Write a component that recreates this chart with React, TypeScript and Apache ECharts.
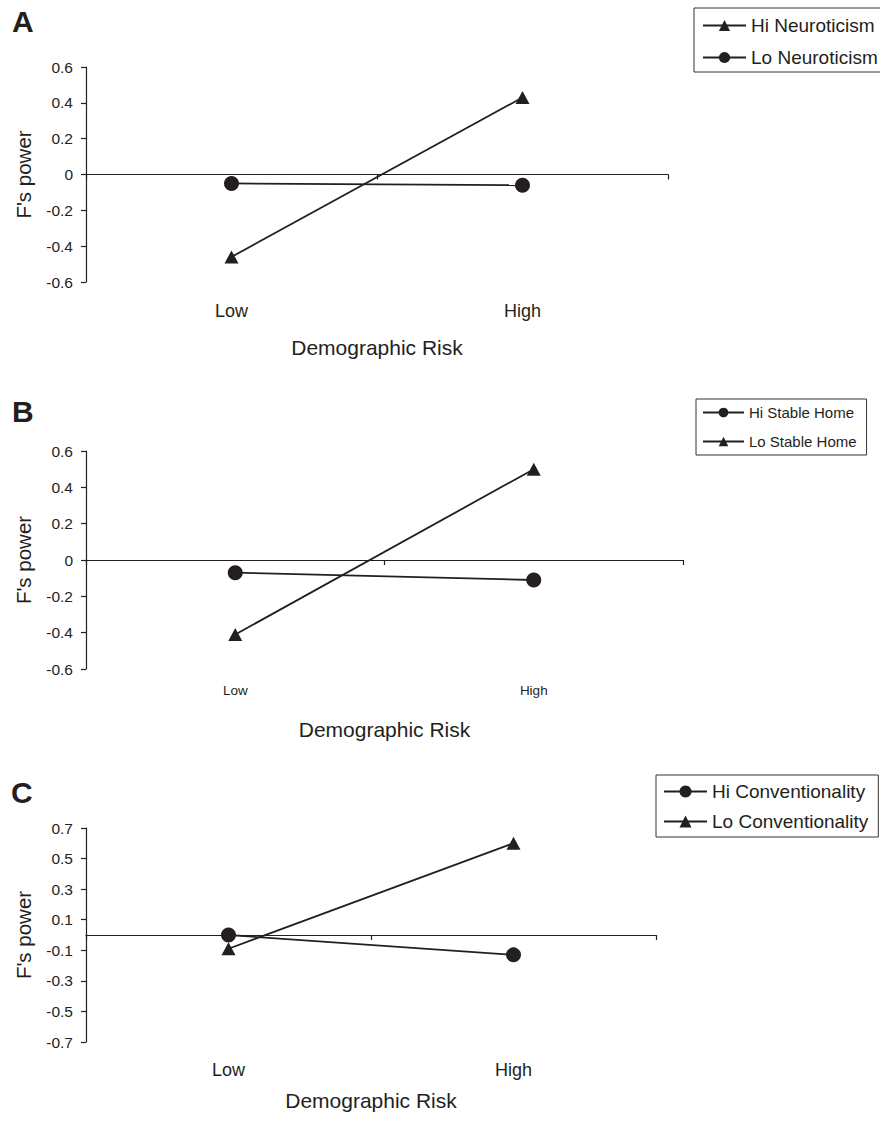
import React, { useEffect, useRef } from "react";
import * as echarts from "echarts";

const categories = ["Low", "High"];

// Panel A
const hiNeuroticism = [-0.46, 0.43];
const loNeuroticism = [-0.05, -0.06];
// Panel B
const hiStableHome = [-0.07, -0.11];
const loStableHome = [-0.41, 0.5];
// Panel C
const hiConventionality = [0.0, -0.13];
const loConventionality = [-0.09, 0.6];

const ticksAB = [-0.6, -0.4, -0.2, 0, 0.2, 0.4, 0.6];
const ticksC = [-0.7, -0.5, -0.3, -0.1, 0.1, 0.3, 0.5, 0.7];

const INK = "#231f20";
const FONT = "'Liberation Sans', Arial, sans-serif";

export default function App() {
  const ref = useRef<HTMLDivElement>(null);

  useEffect(() => {
    if (!ref.current) return;
    const chart = echarts.init(ref.current, undefined, { renderer: "svg" });

    const grids = [
      { left: 86, top: 67, width: 582, height: 215 },
      { left: 86, top: 451, width: 597, height: 218 },
      { left: 86, top: 828, width: 570, height: 214 },
    ];
    const catFont = [18, 13.5, 18];
    const catMargin = [20, 14, 19];
    const nameGapX = [55, 50, 48];

    const xAxes: any[] = [];
    const yAxes: any[] = [];
    grids.forEach((g, i) => {
      xAxes.push({
        type: "category",
        gridIndex: i,
        data: categories,
        position: "bottom",
        boundaryGap: true,
        axisLine: { show: false, onZero: false },
        axisTick: { show: false },
        axisLabel: { color: INK, fontSize: catFont[i], fontFamily: FONT, margin: catMargin[i] },
        name: "Demographic Risk",
        nameLocation: "middle",
        nameGap: nameGapX[i],
        nameTextStyle: { color: INK, fontSize: 21, fontFamily: FONT },
        splitLine: { show: false },
      });
      xAxes.push({
        type: "category",
        gridIndex: i,
        data: categories,
        position: "bottom",
        boundaryGap: true,
        axisLine: { show: true, onZero: true, lineStyle: { color: INK, width: 1.2 } },
        axisTick: { show: true, length: 5, lineStyle: { color: INK, width: 1.2 } },
        axisLabel: { show: false },
        splitLine: { show: false },
      });
      const isC = i === 2;
      const ticks = isC ? ticksC : ticksAB;
      yAxes.push({
        type: "value",
        gridIndex: i,
        min: isC ? -0.7 : -0.6,
        max: isC ? 0.7 : 0.6,
        ...(isC ? {} : { interval: 0.2 }),
        axisLine: { show: true, lineStyle: { color: INK, width: 1.2 } },
        axisTick: isC
          ? { show: true, length: 5, customValues: ticks, lineStyle: { color: INK, width: 1.2 } }
          : { show: true, length: 5, lineStyle: { color: INK, width: 1.2 } },
        axisLabel: {
          color: INK,
          fontSize: 15.5,
          fontFamily: FONT,
          margin: 13,
          ...(isC ? { customValues: ticks } : {}),
          formatter: (v: number) => (Math.abs(v) < 1e-9 ? "0" : (Math.round(v * 10) / 10).toString()),
        },
        splitLine: { show: false },
        name: "F's power",
        nameLocation: "middle",
        nameGap: 52,
        nameTextStyle: { color: INK, fontSize: 20.5, fontFamily: FONT },
      });
    });

    const circle = { symbol: "circle", symbolSize: 15 };
    const tri = { symbol: "triangle", symbolSize: [14, 13] };
    const mk = (name: string, data: number[], gi: number, sym: any) => ({
      type: "line",
      name,
      data,
      xAxisIndex: gi * 2,
      yAxisIndex: gi,
      ...sym,
      lineStyle: { color: INK, width: 1.8 },
      itemStyle: { color: INK },
      z: 3,
    });

    const legendBase = {
      orient: "vertical",
      borderColor: "#333",
      borderWidth: 1,
      backgroundColor: "#fff",
      itemWidth: 43,
      itemHeight: 14,
      textStyle: { color: INK, fontFamily: FONT },
    };

    const option: any = {
      animation: false,
      backgroundColor: "#fff",
      title: [
        { text: "A", left: 12, top: 6, padding: 0, textStyle: { fontSize: 30, fontWeight: "bold", color: INK, fontFamily: FONT } },
        { text: "B", left: 12, top: 396, padding: 0, textStyle: { fontSize: 30, fontWeight: "bold", color: INK, fontFamily: FONT } },
        { text: "C", left: 11, top: 777, padding: 0, textStyle: { fontSize: 30, fontWeight: "bold", color: INK, fontFamily: FONT } },
      ],
      grid: grids,
      xAxis: xAxes,
      yAxis: yAxes,
      legend: [
        {
          ...legendBase,
          left: 694,
          top: 8,
          padding: [8, 10, 5, 8],
          itemGap: 13,
          textStyle: { ...legendBase.textStyle, fontSize: 19 },
          data: ["Hi Neuroticism", "Lo Neuroticism"],
        },
        {
          ...legendBase,
          left: 696,
          top: 399,
          padding: [6, 10, 6, 6],
          itemGap: 14,
          itemWidth: 41,
          itemHeight: 12,
          textStyle: { ...legendBase.textStyle, fontSize: 15 },
          data: ["Hi Stable Home", "Lo Stable Home"],
        },
        {
          ...legendBase,
          left: 656,
          top: 775,
          padding: [7, 10, 6, 7],
          itemGap: 11,
          itemHeight: 15,
          textStyle: { ...legendBase.textStyle, fontSize: 19 },
          data: ["Hi Conventionality", "Lo Conventionality"],
        },
      ],
      series: [
        mk("Hi Neuroticism", hiNeuroticism, 0, tri),
        mk("Lo Neuroticism", loNeuroticism, 0, circle),
        mk("Hi Stable Home", hiStableHome, 1, circle),
        mk("Lo Stable Home", loStableHome, 1, tri),
        mk("Hi Conventionality", hiConventionality, 2, circle),
        mk("Lo Conventionality", loConventionality, 2, tri),
      ],
    };

    chart.setOption(option);
    return () => chart.dispose();
  }, []);

  return (
    <div
      ref={ref}
      style={{ position: "absolute", left: 0, top: 0, width: 880, height: 1122 }}
    />
  );
}
